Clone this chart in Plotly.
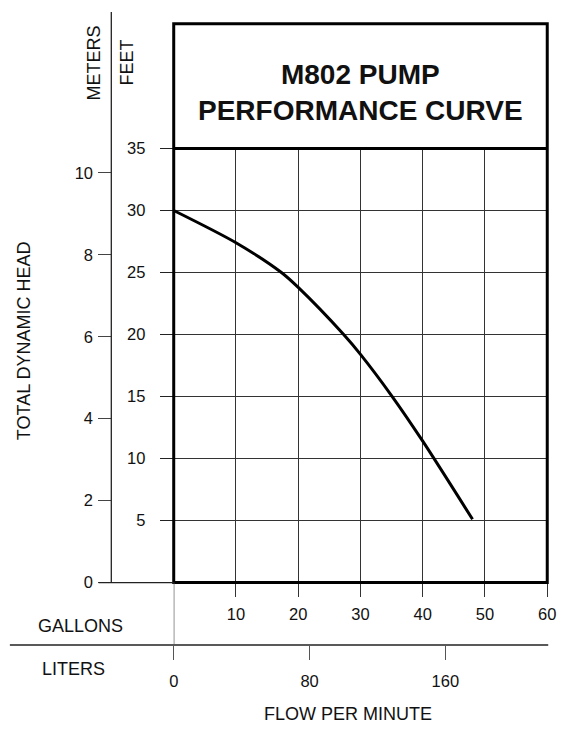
import plotly.graph_objects as go

# ---- data ----
gallons = [0, 10, 17.3, 20, 27.3, 30, 35.1, 40, 48]
head_ft = [30, 27.4, 25, 23.8, 20, 18.4, 15, 11.4, 5.1]

gal_ticks = [10, 20, 30, 40, 50, 60]
ft_ticks = [5, 10, 15, 20, 25, 30, 35]
m_ticks = [0, 2, 4, 6, 8, 10]
liter_ticks = [0, 80, 160]

W, H = 566, 733
FONT = "Liberation Sans, Arial, Helvetica, sans-serif"


def px(x):
    return x / W


def py(y):
    return 1 - y / H


X0, X1 = 173, 556      # plot area left/right (px)
YB, YT = 588, 143      # plot area bottom/top (px)
YBOX = 15              # title box top

fig = go.Figure()
fig.add_trace(go.Scatter(
    x=gallons, y=head_ft, mode="lines",
    line=dict(color="black", width=3, shape="spline", smoothing=0.8),
    hoverinfo="skip", showlegend=False))
fig.add_trace(go.Scatter(x=[None], y=[None], yaxis="y2", showlegend=False))
fig.add_trace(go.Scatter(x=[None], y=[None], xaxis="x2", showlegend=False))

m_range = (YB - YT) / 42.0

fig.update_layout(
    width=W, height=H,
    margin=dict(l=0, r=0, t=0, b=0),
    paper_bgcolor="white", plot_bgcolor="white",
    font=dict(family=FONT, size=16.5, color="#111"),
    showlegend=False,
    xaxis=dict(
        domain=[px(X0), px(X1)], range=[0, 60], anchor="y",
        tickvals=gal_ticks, ticks="outside", ticklen=13, tickwidth=1.3,
        tickcolor="#333", showgrid=True, gridcolor="#333", gridwidth=1.3,
        zeroline=False, showline=False, ticklabelstandoff=4,
        tickfont=dict(size=16.5, family=FONT, color="#111"),
    ),
    yaxis=dict(
        domain=[py(YB), py(YT)], range=[0, 35], anchor="x",
        tickvals=ft_ticks, ticks="outside", ticklen=13, tickwidth=1.3,
        tickcolor="#222", showgrid=True, gridcolor="#333", gridwidth=1.3,
        zeroline=False, showline=False, ticklabelstandoff=11,
        tickfont=dict(size=16.5, family=FONT, color="#111"),
    ),
    yaxis2=dict(
        overlaying="y", anchor="free", position=px(109), side="left",
        range=[0, m_range], tickvals=m_ticks, ticks="outside", ticklen=13,
        tickwidth=1.3, tickcolor="#444", showgrid=False, zeroline=False,
        showline=False, ticklabelstandoff=2,
        tickfont=dict(size=16.5, family=FONT, color="#111"),
    ),
    xaxis2=dict(
        overlaying="x", anchor="free", position=py(652), side="bottom",
        range=[0, 220], tickvals=liter_ticks, ticks="outside", ticklen=14,
        tickwidth=1.3, tickcolor="#555", showgrid=False, zeroline=False,
        showline=False, ticklabelstandoff=7,
        tickfont=dict(size=16.5, family=FONT, color="#111"),
    ),
)

shapes = []
# thick frame around title box and grid
shapes.append(dict(type="rect", xref="paper", yref="paper",
                   x0=px(X0), x1=px(X1), y0=py(YB), y1=py(YBOX),
                   line=dict(color="black", width=3), layer="above"))
shapes.append(dict(type="line", xref="paper", yref="paper",
                   x0=px(X0), x1=px(X1), y0=py(YT), y1=py(YT),
                   line=dict(color="black", width=3), layer="above"))
# meters axis line
shapes.append(dict(type="line", xref="paper", yref="paper",
                   x0=px(109), x1=px(109), y0=py(YB), y1=py(3),
                   line=dict(color="#222", width=1.3)))
shapes.append(dict(type="line", xref="paper", yref="paper",
                   x0=px(96), x1=px(X0), y0=py(YB), y1=py(YB),
                   line=dict(color="#222", width=1.3)))
# liters axis line
shapes.append(dict(type="line", xref="paper", yref="paper",
                   x0=px(5), x1=px(557), y0=py(652), y1=py(652),
                   line=dict(color="#222", width=1.3)))
# zero-flow connector between the two flow axes
shapes.append(dict(type="line", xref="x", yref="paper",
                   x0=0, x1=0, y0=py(652), y1=py(YB),
                   line=dict(color="#555", width=1.3)))
fig.update_layout(shapes=shapes)

ann = []


def label(text, x, y, size=18, angle=0, bold=False):
    ann.append(dict(text=f"<b>{text}</b>" if bold else text,
                    x=px(x), y=py(y), xref="paper", yref="paper",
                    showarrow=False, textangle=angle,
                    xanchor="center", yanchor="middle",
                    font=dict(size=size, family=FONT, color="#111")))


label("METERS", 91, 55, angle=-90)
label("FEET", 125.5, 54.5, angle=-90)
label("TOTAL DYNAMIC HEAD", 19, 340, angle=-90)
label("GALLONS", 77, 633)
label("LITERS", 70, 677)
label("FLOW PER MINUTE", 351.5, 723)
label("M802 PUMP<br>PERFORMANCE CURVE", 364.5, 86, size=28, bold=True)
fig.update_layout(annotations=ann)

post = (
    "document.documentElement.style.margin='0px';"
    "document.documentElement.style.overflow='hidden';"
    "document.body.style.margin='0px';"
    "document.body.style.overflow='hidden';"
)

fig.write_html("out.html", config={"displayModeBar": False}, post_script=post)
